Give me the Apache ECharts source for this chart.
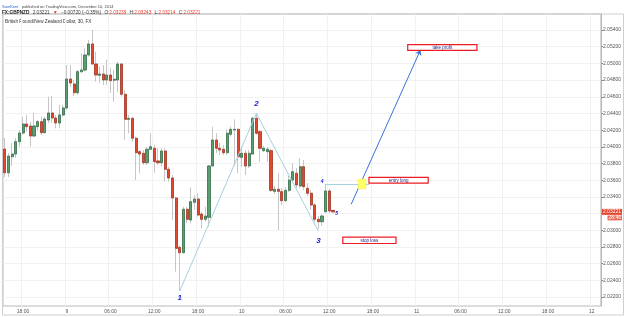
<!DOCTYPE html>
<html>
<head>
<meta charset="utf-8">
<script src="https://cdn.jsdelivr.net/npm/echarts@6/dist/echarts.min.js"></script>
<style>
  html, body { margin: 0; padding: 0; background: #fff; }
  #chart { width: 625px; height: 317px; }
</style>
</head>
<body>
<div id="chart"></div>
<script>
var dom = document.getElementById('chart');
var chart = echarts.init(dom, null, { renderer: 'canvas' });

// GBPNZD, 30 min bars, Dec 8 15:30 -> Dec 10 12:30
var opens = [
  2.03974, 2.03690, 2.03882, 2.03914, 2.04062, 2.04166, 2.04274, 2.04250, 2.04130, 2.04242,
  2.04302, 2.04170, 2.04322, 2.04406, 2.04346, 2.04286, 2.04382, 2.04466, 2.04813, 2.04753,
  2.04649, 2.04901, 2.04921, 2.05101, 2.05233, 2.04993, 2.04858, 2.04873, 2.04801, 2.04861,
  2.04798, 2.04801, 2.04993, 2.04630, 2.04330, 2.04342, 2.04103, 2.03942, 2.03923, 2.03810,
  2.03971, 2.03983, 2.03831, 2.03810, 2.03950, 2.03731, 2.03627, 2.03387, 2.02796, 2.02732,
  2.03252, 2.03123, 2.03336, 2.03375, 2.03195, 2.03132, 2.03156, 2.03771, 2.04082, 2.03983,
  2.03971, 2.03930, 2.04151, 2.04202, 2.04210, 2.03875, 2.03923, 2.03771, 2.03914, 2.04342,
  2.04182, 2.03954, 2.03942, 2.03954, 2.03467, 2.03491, 2.03463, 2.03355, 2.03479, 2.03603,
  2.03683, 2.03531, 2.03762, 2.03503, 2.03444, 2.03303, 2.03132, 2.03103, 2.03223, 2.03471,
  2.03239
];
var closes = [
  2.03690, 2.03890, 2.03914, 2.04062, 2.04166, 2.04274, 2.04242, 2.04130, 2.04250, 2.04302,
  2.04170, 2.04334, 2.04406, 2.04346, 2.04286, 2.04382, 2.04466, 2.04813, 2.04765, 2.04649,
  2.04901, 2.04921, 2.05101, 2.05233, 2.04993, 2.04861, 2.04873, 2.04801, 2.04861, 2.04793,
  2.04810, 2.04993, 2.04630, 2.04330, 2.04342, 2.04103, 2.03930, 2.03914, 2.03810, 2.03971,
  2.04002, 2.03822, 2.03810, 2.03950, 2.03731, 2.03627, 2.03387, 2.02784, 2.02732, 2.03252,
  2.03132, 2.03343, 2.03375, 2.03183, 2.03132, 2.03171, 2.03771, 2.04082, 2.03983, 2.03962,
  2.03930, 2.04163, 2.04210, 2.04210, 2.03882, 2.03923, 2.03771, 2.03923, 2.04342, 2.04163,
  2.03983, 2.03983, 2.03971, 2.03479, 2.03491, 2.03467, 2.03355, 2.03479, 2.03603, 2.03702,
  2.03543, 2.03762, 2.03523, 2.03444, 2.03303, 2.03132, 2.03103, 2.03171, 2.03471, 2.03231,
  2.03221
];
var lows = [
  2.03639, 2.03639, 2.03771, 2.03866, 2.04002, 2.04142, 2.04182, 2.04002, 2.04122, 2.04202,
  2.04142, 2.04163, 2.04286, 2.04286, 2.04222, 2.04222, 2.04361, 2.04442, 2.04717, 2.04610,
  2.04622, 2.04882, 2.04901, 2.05081, 2.04981, 2.04781, 2.04765, 2.04741, 2.04741, 2.04646,
  2.04541, 2.04661, 2.04601, 2.04082, 2.04163, 2.04062, 2.03603, 2.03683, 2.03783, 2.03783,
  2.03962, 2.03690, 2.03783, 2.03762, 2.03582, 2.03582, 2.03123, 2.02504, 2.02273, 2.02724,
  2.03084, 2.03084, 2.03243, 2.03163, 2.03024, 2.03103, 2.03043, 2.03762, 2.03923, 2.03902,
  2.03902, 2.03902, 2.04122, 2.03771, 2.03683, 2.03762, 2.03663, 2.03747, 2.03902, 2.04142,
  2.03822, 2.03938, 2.03819, 2.03459, 2.03435, 2.03004, 2.03303, 2.03339, 2.03459, 2.03579,
  2.03507, 2.03507, 2.03483, 2.03411, 2.03243, 2.03100, 2.03016, 2.03052, 2.03207, 2.03207,
  2.03214
];
var highs = [
  2.04106, 2.03926, 2.04046, 2.04106, 2.04202, 2.04361, 2.04382, 2.04302, 2.04406, 2.04322,
  2.04361, 2.04361, 2.04601, 2.04610, 2.04382, 2.04502, 2.04502, 2.04981, 2.04981, 2.04801,
  2.04921, 2.05121, 2.05181, 2.05281, 2.05400, 2.05140, 2.04961, 2.04981, 2.05049, 2.04945,
  2.04921, 2.05021, 2.05001, 2.04681, 2.04382, 2.04361, 2.04122, 2.03962, 2.03962, 2.04002,
  2.04163, 2.04022, 2.03983, 2.03983, 2.03983, 2.03762, 2.03663, 2.03403, 2.02812, 2.03283,
  2.03283, 2.03515, 2.03423, 2.03444, 2.03223, 2.03283, 2.03783, 2.04242, 2.04163, 2.04050,
  2.04022, 2.04210, 2.04242, 2.04330, 2.04222, 2.04002, 2.03962, 2.03962, 2.04361, 2.04402,
  2.04202, 2.04010, 2.03998, 2.03974, 2.03531, 2.03683, 2.03507, 2.03519, 2.03651, 2.03803,
  2.03747, 2.03863, 2.03843, 2.03567, 2.03483, 2.03327, 2.03171, 2.03195, 2.03555, 2.03495,
  2.03243
];

var slotCount = 164;          // bar slots across the plot, empty ones on the right
var priceTicks = [2.022, 2.024, 2.026, 2.028, 2.030, 2.032, 2.034, 2.036, 2.038,
                  2.040, 2.042, 2.044, 2.046, 2.048, 2.050, 2.052, 2.054];
var priceLabels = [2.022, 2.024, 2.026, 2.028, 2.030, 2.034, 2.036, 2.038,
                   2.040, 2.042, 2.044, 2.046, 2.048, 2.050, 2.052, 2.054];
var lastPrice = 2.03221;
var countdown = '28:46';
var yMin = 2.02093, yMax = 2.05592;

// wave points drawn on the chart: [bar index, price]
var wave1 = [48, 2.02273];
var wave2 = [69, 2.04402];
var wave3 = [86, 2.02990];
var entryLevel = 2.03555;

function pad(n) { return n < 10 ? '0' + n : '' + n; }

var categories = [];
var t0 = Date.UTC(2014, 11, 8, 15, 30);
for (var i = 0; i < slotCount; i++) {
  var d = new Date(t0 + i * 30 * 60000);
  categories.push(d.getUTCDate() + ' ' + pad(d.getUTCHours()) + ':' + pad(d.getUTCMinutes()));
}

function isTick(idx) {
  var hm = categories[idx].split(' ')[1];
  return hm.slice(3) === '00' && (+hm.slice(0, 2)) % 6 === 0;
}

var wickData = opens.map(function (o, i) { return [o, closes[i], lows[i], highs[i]]; });
var bodyData = opens.map(function (o, i) {
  return [o, closes[i], Math.min(o, closes[i]), Math.max(o, closes[i])];
});

var waveLine = { color: '#a3d2da', width: 1, type: 'solid' };
var smallFont = 'Liberation Sans, Arial, sans-serif';

function waveLabel(txt, coord, size) {
  return {
    coord: coord, symbol: 'circle', symbolSize: 1,
    itemStyle: { color: 'rgba(0,0,0,0)' },
    label: {
      show: true, position: 'inside', formatter: txt,
      fontSize: size, fontStyle: 'italic', fontWeight: 'bold',
      fontFamily: smallFont, color: '#2424e0'
    }
  };
}

function noteBox(txt, coord, w, h) {
  return {
    coord: coord, symbol: 'circle', symbolSize: 1,
    itemStyle: { color: 'rgba(0,0,0,0)' },
    label: {
      show: true, position: 'inside', formatter: txt,
      width: w, height: h, lineHeight: h, align: 'center', verticalAlign: 'middle',
      backgroundColor: '#ffffff', borderColor: '#ec1c24', borderWidth: 1.2,
      fontSize: 4.5, fontFamily: smallFont, color: '#1a2a80'
    }
  };
}

var option = {
  animation: false,
  backgroundColor: '#ffffff',
  grid: {
    left: 3, right: 21, top: 14, bottom: 11,
    show: true, borderColor: '#b9b9b9', borderWidth: 1
  },
  xAxis: {
    type: 'category',
    data: categories,
    boundaryGap: true,
    axisLine: { show: false },
    axisTick: { show: false },
    axisLabel: {
      interval: isTick,
      fontSize: 5, color: '#555', margin: 3, fontFamily: smallFont,
      formatter: function (val) {
        var p = val.split(' ');
        return p[1] === '00:00' ? p[0] : p[1];
      }
    },
    splitLine: { show: true, interval: isTick, lineStyle: { color: '#f1f1f1', width: 1 } }
  },
  yAxis: [
    {
      type: 'value',
      position: 'right',
      min: yMin,
      max: yMax,
      axisLine: { show: true, lineStyle: { color: '#b9b9b9' } },
      axisTick: { show: true, customValues: priceTicks, length: 2, lineStyle: { color: '#888' } },
      axisLabel: {
        customValues: priceLabels,
        fontSize: 5, color: '#555', margin: 2, fontFamily: smallFont,
        formatter: function (v) { return v.toFixed(5); }
      },
      splitLine: { show: true, lineStyle: { color: '#f1f1f1', width: 1 } }
    },
    {
      // last price tag and bar countdown on the price scale
      type: 'value',
      position: 'right',
      min: yMin,
      max: yMax,
      axisLine: { show: false },
      axisTick: { show: false },
      splitLine: { show: false },
      axisLabel: {
        customValues: [lastPrice],
        margin: 1,
        formatter: function (v) {
          return '{s| }\n{p|' + v.toFixed(5) + '}\n{t|' + countdown + '}';
        },
        rich: {
          s: { fontSize: 5, lineHeight: 6, height: 6, color: 'rgba(0,0,0,0)' },
          p: { fontSize: 5, lineHeight: 6, height: 6, color: '#fff', backgroundColor: '#e2472f',
               padding: [0, 1], fontFamily: smallFont },
          t: { fontSize: 5, lineHeight: 6, height: 5, color: '#fff', backgroundColor: '#ea6a58',
               padding: [0, 1], fontFamily: smallFont, align: 'right' }
        }
      }
    }
  ],
  series: [
    {
      name: 'wick',
      type: 'candlestick',
      data: wickData,
      barWidth: 2.6,
      itemStyle: {
        color: '#c6c6c6', color0: '#c6c6c6',
        borderColor: '#c6c6c6', borderColor0: '#c6c6c6', borderWidth: 1
      }
    },
    {
      name: 'GBPNZD',
      type: 'candlestick',
      data: bodyData,
      barWidth: 2.6,
      itemStyle: {
        color: '#5a9e70', color0: '#e2472f',
        borderColor: '#2f6b45', borderColor0: '#a3301e', borderWidth: 0.7
      },
      markLine: {
        silent: true,
        symbol: ['none', 'none'],
        label: { show: false },
        lineStyle: waveLine,
        data: [
          [{ coord: wave1 }, { coord: wave2 }],
          [{ coord: wave2 }, { coord: wave3 }],
          [{ coord: [88, entryLevel] }, { coord: [100, entryLevel] }],
          [
            { coord: [95, 2.03312], symbol: 'none', lineStyle: { color: '#3a72d8', width: 1 } },
            { coord: [114, 2.05161], symbol: 'arrow', symbolSize: 5 }
          ]
        ]
      },
      markPoint: {
        silent: true,
        data: [
          { coord: [98, entryLevel], symbol: 'rect', symbolSize: [8, 10],
            itemStyle: { color: '#ffff66', borderColor: '#e2c600', borderWidth: 0.2 },
            label: { show: false } },
          noteBox('take profit', [120, 2.05191], 68, 4.6),
          noteBox('entry long', [108, 2.03599], 58, 4.6),
          noteBox('stop loss', [100, 2.02880], 52, 5.2),
          waveLabel('1', [48, 2.02189], 8),
          waveLabel('2', [69, 2.04514], 8),
          waveLabel('3', [86, 2.02872], 8),
          waveLabel('4', [87, 2.03580], 5),
          waveLabel('5', [91, 2.03195], 5)
        ]
      }
    }
  ],
  graphic: [
    {
      type: 'rect', silent: true,
      shape: { x: 2.5, y: 14, width: 621, height: 301 },
      style: { fill: 'none', stroke: '#cfcfcf', lineWidth: 1 }
    },
    {
      type: 'text', x: 2, y: 1,
      style: {
        text: '{u|SamKent} {g|published on TradingView.com, December 10, 2014}',
        rich: {
          u: { fontSize: 4, fill: '#2f6ad0', fontFamily: smallFont },
          g: { fontSize: 4, fill: '#444', fontFamily: smallFont }
        }
      }
    },
    {
      type: 'text', x: 2, y: 6.5,
      style: {
        text: '{b|FX:GBPNZD} {g|2.03221} {r|\u25BC} {g|\u22120.00720 (\u22120.35%)} {g|O:}{r|2.03239} {g|H:}{r|2.03243} {g|L:}{r|2.03214} {g|C:}{r|2.03221}',
        rich: {
          b: { fontSize: 4.7, fill: '#222', fontWeight: 'bold', fontFamily: smallFont },
          g: { fontSize: 4.7, fill: '#333', fontFamily: smallFont },
          r: { fontSize: 4.7, fill: '#e23a2a', fontFamily: smallFont }
        }
      }
    },
    {
      type: 'text', x: 5, y: 19,
      style: {
        text: 'British Pound/New Zealand Dollar, 30, FX',
        fontSize: 4.7, fill: '#333', fontFamily: smallFont
      }
    }
  ]
};

chart.setOption(option);
window.addEventListener('resize', chart.resize);
</script>
</body>
</html>
